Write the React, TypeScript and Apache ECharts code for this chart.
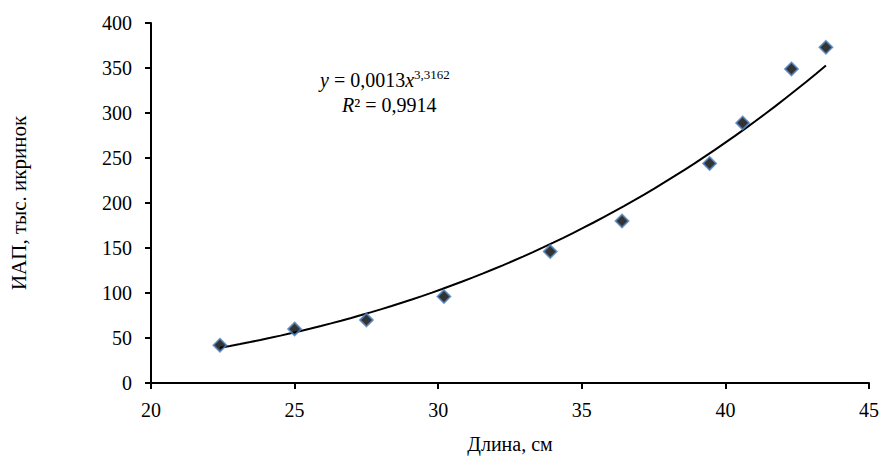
import React, { useEffect, useRef } from "react";
import * as echarts from "echarts";

const lengths = [22.4, 25.0, 27.5, 30.2, 33.9, 36.4, 39.45, 40.6, 42.3, 43.5];
const fecundity = [42, 60, 70, 96, 146, 180, 244, 289, 349, 373];
const xTicks = [20, 25, 30, 35, 40, 45];
const yTicks = [0, 50, 100, 150, 200, 250, 300, 350, 400];
// Trendline coefficients as printed on the chart: y = 0,0013 x^3,3162
const trendA = 0.0013;
const trendB = 3.3162;
const trendSteps = 60;

const FONT = "Liberation Serif";

export default function App() {
  const ref = useRef<HTMLDivElement>(null);
  useEffect(() => {
    if (!ref.current) return;
    const chart = echarts.init(ref.current, null, { renderer: "svg" });
    const xMin = Math.min(...lengths);
    const xMax = Math.max(...lengths);
    const trend: number[][] = [];
    for (let i = 0; i <= trendSteps; i++) {
      const x = xMin + ((xMax - xMin) * i) / trendSteps;
      trend.push([x, trendA * Math.pow(x, trendB)]);
    }
    chart.setOption({
      animation: false,
      backgroundColor: "#ffffff",
      grid: { left: 151, right: 13, top: 23, bottom: 70, containLabel: false },
      xAxis: {
        type: "value",
        min: xTicks[0],
        max: xTicks[xTicks.length - 1],
        interval: 5,
        name: "Длина, см",
        nameLocation: "middle",
        nameGap: 51,
        nameTextStyle: { fontFamily: FONT, fontSize: 20, color: "#000" },
        axisLine: { show: true, lineStyle: { color: "#000", width: 2 } },
        axisTick: { show: true, inside: false, length: 6, lineStyle: { color: "#000", width: 2 } },
        axisLabel: { fontFamily: FONT, fontSize: 20, color: "#000", margin: 17 },
        splitLine: { show: false },
      },
      yAxis: {
        type: "value",
        min: yTicks[0],
        max: yTicks[yTicks.length - 1],
        interval: 50,
        name: "ИАП, тыс. икринок",
        nameLocation: "middle",
        nameGap: 122,
        nameTextStyle: { fontFamily: FONT, fontSize: 21, color: "#000" },
        axisLine: { show: true, lineStyle: { color: "#000", width: 2 } },
        axisTick: { show: true, inside: false, length: 6, lineStyle: { color: "#000", width: 2 } },
        axisLabel: { fontFamily: FONT, fontSize: 20, color: "#000", margin: 19 },
        splitLine: { show: false },
      },
      series: [
        {
          type: "line",
          data: trend,
          showSymbol: false,
          symbol: "none",
          smooth: false,
          lineStyle: { color: "#000", width: 2 },
          z: 2,
        },
        {
          type: "scatter",
          data: lengths.map((x, i) => [x, fecundity[i]]),
          symbol: "diamond",
          symbolSize: 13,
          itemStyle: { color: "#000", borderColor: "#4F81BD", borderWidth: 1.8 },
          z: 3,
        },
      ],
      graphic: [
        {
          type: "text",
          left: 320,
          top: 68,
          style: {
            text: "{i|y} = 0,0013{i|x}{sup|3,3162}",
            fontFamily: FONT,
            fontSize: 20,
            fill: "#000",
            rich: {
              i: { fontFamily: FONT, fontSize: 20, fontStyle: "italic", fill: "#000" },
              sup: { fontFamily: FONT, fontSize: 13, fill: "#000", verticalAlign: "top", padding: [0, 0, 10, 0] },
            },
          },
        },
        {
          type: "text",
          left: 342,
          top: 95,
          style: {
            text: "{i|R}² = 0,9914",
            fontFamily: FONT,
            fontSize: 20,
            fill: "#000",
            rich: {
              i: { fontFamily: FONT, fontSize: 20, fontStyle: "italic", fill: "#000" },
            },
          },
        },
      ],
    });
    return () => chart.dispose();
  }, []);
  return <div ref={ref} style={{ width: 882, height: 459, position: "absolute", left: 0, top: 0 }} />;
}
